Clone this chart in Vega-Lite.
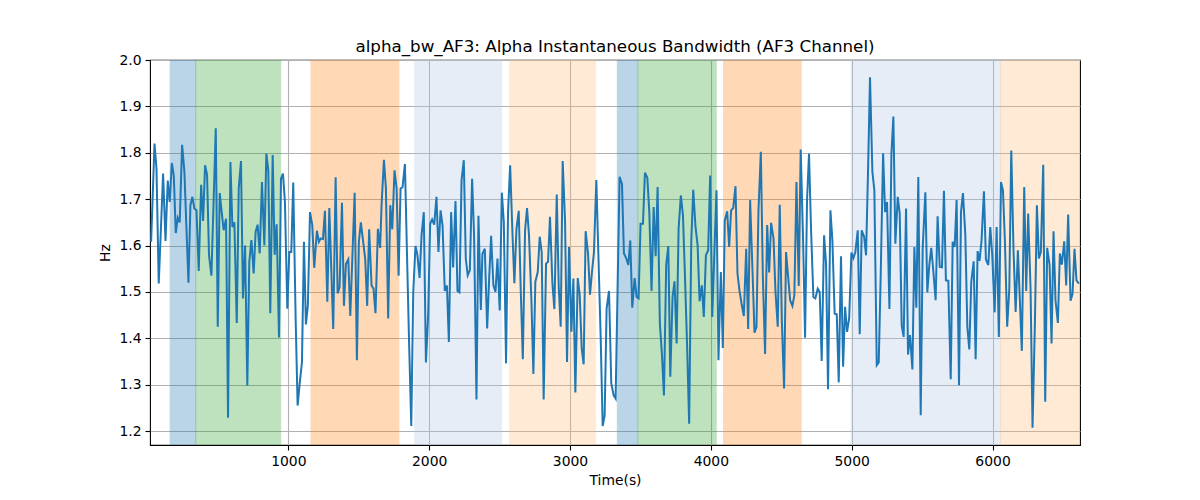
{
"$schema":"https://vega.github.io/schema/vega-lite/v6.json",
"width":930,"height":385,
"autosize":{"type":"none"},
"padding":{"left":150,"top":60,"right":120,"bottom":55},
"background":"white",
"title":{"text":"alpha_bw_AF3: Alpha Instantaneous Bandwidth (AF3 Channel)","font":"DejaVu Sans","fontSize":16.7,"fontWeight":"normal","color":"black","anchor":"middle","frame":"group","baseline":"alphabetic","offset":-16},
"config":{"view":{"stroke":"black","strokeWidth":1.1},
"axis":{"labelFont":"DejaVu Sans","titleFont":"DejaVu Sans","labelFontSize":13.9,"titleFontSize":13.9,"titleFontWeight":"normal","labelColor":"black","titleColor":"black","tickColor":"black","tickSize":5,"tickWidth":1.1,"domain":false,"grid":true,"gridColor":"#b0b0b0","gridWidth":1.1}},
"datasets":{
"spans":[
{"s":161,"e":343,"k":"A"},{"s":343,"e":946,"k":"B"},{"s":1161,"e":1785,"k":"C"},{"s":1898,"e":2513,"k":"D"},{"s":2572,"e":3182,"k":"E"},
{"s":3336,"e":3482,"k":"A"},{"s":3482,"e":4038,"k":"B"},{"s":4090,"e":4641,"k":"C"},{"s":4996,"e":6057,"k":"D"},{"s":6057,"e":6621,"k":"E"}],
"series":[
{"t":26,"v":1.608},{"t":50,"v":1.82},{"t":64,"v":1.766},{"t":80,"v":1.518},{"t":111,"v":1.755},{"t":128,"v":1.61},{"t":144,"v":1.74},{"t":158,"v":1.694},{"t":173,"v":1.778},{"t":187,"v":1.75},{"t":201,"v":1.627},{"t":215,"v":1.66},{"t":229,"v":1.65},{"t":246,"v":1.817},{"t":262,"v":1.76},{"t":291,"v":1.52},{"t":305,"v":1.687},{"t":319,"v":1.705},{"t":333,"v":1.68},{"t":348,"v":1.676},{"t":364,"v":1.545},{"t":381,"v":1.731},{"t":395,"v":1.653},{"t":409,"v":1.773},{"t":423,"v":1.753},{"t":437,"v":1.579},{"t":454,"v":1.535},{"t":485,"v":1.853},{"t":499,"v":1.425},{"t":513,"v":1.713},{"t":527,"v":1.672},{"t":541,"v":1.633},{"t":558,"v":1.658},{"t":572,"v":1.229},{"t":589,"v":1.78},{"t":603,"v":1.64},{"t":617,"v":1.65},{"t":634,"v":1.433},{"t":648,"v":1.723},{"t":664,"v":1.782},{"t":678,"v":1.486},{"t":693,"v":1.6},{"t":709,"v":1.298},{"t":723,"v":1.565},{"t":738,"v":1.612},{"t":754,"v":1.54},{"t":768,"v":1.63},{"t":782,"v":1.645},{"t":797,"v":1.583},{"t":813,"v":1.737},{"t":830,"v":1.6},{"t":844,"v":1.798},{"t":858,"v":1.762},{"t":872,"v":1.454},{"t":889,"v":1.795},{"t":903,"v":1.58},{"t":917,"v":1.646},{"t":934,"v":1.402},{"t":948,"v":1.744},{"t":962,"v":1.755},{"t":976,"v":1.694},{"t":993,"v":1.464},{"t":1007,"v":1.586},{"t":1021,"v":1.586},{"t":1035,"v":1.736},{"t":1052,"v":1.443},{"t":1066,"v":1.255},{"t":1080,"v":1.30},{"t":1097,"v":1.349},{"t":1111,"v":1.608},{"t":1125,"v":1.43},{"t":1139,"v":1.471},{"t":1154,"v":1.672},{"t":1170,"v":1.644},{"t":1184,"v":1.552},{"t":1203,"v":1.632},{"t":1217,"v":1.608},{"t":1229,"v":1.615},{"t":1246,"v":1.614},{"t":1260,"v":1.675},{"t":1277,"v":1.479},{"t":1291,"v":1.681},{"t":1319,"v":1.42},{"t":1336,"v":1.747},{"t":1350,"v":1.497},{"t":1364,"v":1.51},{"t":1381,"v":1.692},{"t":1395,"v":1.47},{"t":1409,"v":1.56},{"t":1426,"v":1.57},{"t":1440,"v":1.448},{"t":1471,"v":1.714},{"t":1487,"v":1.353},{"t":1501,"v":1.608},{"t":1515,"v":1.65},{"t":1530,"v":1.612},{"t":1546,"v":1.571},{"t":1560,"v":1.47},{"t":1574,"v":1.635},{"t":1591,"v":1.514},{"t":1605,"v":1.507},{"t":1619,"v":1.454},{"t":1636,"v":1.636},{"t":1652,"v":1.595},
{"t":1662,"v":1.687},{"t":1679,"v":1.785},{"t":1693,"v":1.723},{"t":1709,"v":1.443},{"t":1724,"v":1.687},{"t":1738,"v":1.635},{"t":1754,"v":1.762},{"t":1769,"v":1.723},{"t":1783,"v":1.535},{"t":1797,"v":1.723},{"t":1811,"v":1.726},{"t":1828,"v":1.776},{"t":1842,"v":1.59},{"t":1858,"v":1.385},{"t":1873,"v":1.211},{"t":1887,"v":1.5},{"t":1903,"v":1.599},{"t":1917,"v":1.579},{"t":1932,"v":1.53},{"t":1946,"v":1.622},{"t":1962,"v":1.672},{"t":1977,"v":1.348},{"t":1993,"v":1.45},{"t":2007,"v":1.647},{"t":2021,"v":1.656},{"t":2036,"v":1.645},{"t":2052,"v":1.705},{"t":2066,"v":1.586},{"t":2081,"v":1.676},{"t":2095,"v":1.644},{"t":2111,"v":1.502},{"t":2126,"v":1.514},{"t":2140,"v":1.392},{"t":2156,"v":1.672},{"t":2170,"v":1.553},{"t":2187,"v":1.696},{"t":2201,"v":1.502},{"t":2215,"v":1.499},{"t":2230,"v":1.741},{"t":2246,"v":1.784},{"t":2260,"v":1.572},{"t":2274,"v":1.536},{"t":2289,"v":1.547},{"t":2305,"v":1.744},{"t":2319,"v":1.622},{"t":2336,"v":1.268},{"t":2350,"v":1.664},{"t":2367,"v":1.461},{"t":2378,"v":1.582},{"t":2395,"v":1.593},{"t":2412,"v":1.421},{"t":2426,"v":1.529},{"t":2440,"v":1.621},{"t":2456,"v":1.514},{"t":2471,"v":1.5},{"t":2485,"v":1.572},{"t":2501,"v":1.46},{"t":2516,"v":1.714},{"t":2530,"v":1.651},{"t":2546,"v":1.346},{"t":2560,"v":1.672},{"t":2575,"v":1.773},{"t":2591,"v":1.631},{"t":2605,"v":1.519},{"t":2620,"v":1.636},{"t":2636,"v":1.675},{"t":2650,"v":1.507},{"t":2665,"v":1.355},{"t":2681,"v":1.633},{"t":2695,"v":1.681},{"t":2709,"v":1.622},{"t":2726,"v":1.482},{"t":2740,"v":1.323},{"t":2754,"v":1.522},{"t":2771,"v":1.543},{"t":2785,"v":1.619},{"t":2799,"v":1.586},{"t":2813,"v":1.268},{"t":2830,"v":1.561},{"t":2844,"v":1.565},{"t":2858,"v":1.662},{"t":2875,"v":1.519},{"t":2889,"v":1.463},{"t":2906,"v":1.71},{"t":2920,"v":1.511},{"t":2934,"v":1.425},{"t":2948,"v":1.782},{"t":2965,"v":1.651},{"t":2979,"v":1.349},{"t":2993,"v":1.597},{"t":3010,"v":1.414},{"t":3024,"v":1.529},{"t":3038,"v":1.283},{"t":3055,"v":1.53},{"t":3069,"v":1.493},{"t":3083,"v":1.378},{"t":3097,"v":1.344},{"t":3111,"v":1.631},{"t":3128,"v":1.583},{"t":3142,"v":1.494},{"t":3156,"v":1.543},{"t":3170,"v":1.585},{"t":3187,"v":1.741},{"t":3201,"v":1.586},{"t":3218,"v":1.4},{"t":3232,"v":1.211},{"t":3246,"v":1.234},{"t":3260,"v":1.464},{"t":3277,"v":1.502},
{"t":3293,"v":1.303},{"t":3310,"v":1.277},{"t":3324,"v":1.27},{"t":3352,"v":1.748},{"t":3369,"v":1.733},{"t":3383,"v":1.583},{"t":3400,"v":1.572},{"t":3414,"v":1.558},{"t":3428,"v":1.611},{"t":3442,"v":1.466},{"t":3459,"v":1.53},{"t":3473,"v":1.489},{"t":3487,"v":1.486},{"t":3501,"v":1.647},{"t":3518,"v":1.647},{"t":3532,"v":1.757},{"t":3549,"v":1.746},{"t":3563,"v":1.672},{"t":3579,"v":1.502},{"t":3594,"v":1.683},{"t":3608,"v":1.577},{"t":3622,"v":1.726},{"t":3638,"v":1.432},{"t":3653,"v":1.364},{"t":3667,"v":1.277},{"t":3683,"v":1.559},{"t":3698,"v":1.599},{"t":3712,"v":1.317},{"t":3728,"v":1.489},{"t":3742,"v":1.523},{"t":3757,"v":1.389},{"t":3771,"v":1.636},{"t":3787,"v":1.708},{"t":3802,"v":1.665},{"t":3816,"v":1.536},{"t":3832,"v":1.378},{"t":3846,"v":1.216},{"t":3861,"v":1.608},{"t":3875,"v":1.72},{"t":3891,"v":1.64},{"t":3906,"v":1.601},{"t":3920,"v":1.48},{"t":3936,"v":1.514},{"t":3950,"v":1.446},{"t":3965,"v":1.579},{"t":3981,"v":1.59},{"t":3995,"v":1.751},{"t":4010,"v":1.446},{"t":4026,"v":1.593},{"t":4040,"v":1.719},{"t":4054,"v":1.353},{"t":4071,"v":1.543},{"t":4085,"v":1.379},{"t":4099,"v":1.654},{"t":4116,"v":1.674},{"t":4130,"v":1.597},{"t":4144,"v":1.676},{"t":4159,"v":1.681},{"t":4175,"v":1.728},{"t":4189,"v":1.54},{"t":4203,"v":1.504},{"t":4218,"v":1.475},{"t":4234,"v":1.448},{"t":4251,"v":1.593},{"t":4265,"v":1.42},{"t":4279,"v":1.698},{"t":4296,"v":1.543},{"t":4310,"v":1.412},{"t":4324,"v":1.425},{"t":4338,"v":1.674},{"t":4355,"v":1.802},{"t":4369,"v":1.536},{"t":4385,"v":1.366},{"t":4400,"v":1.644},{"t":4414,"v":1.542},{"t":4428,"v":1.649},{"t":4445,"v":1.615},{"t":4459,"v":1.5},{"t":4475,"v":1.425},{"t":4489,"v":1.688},{"t":4504,"v":1.439},{"t":4520,"v":1.292},{"t":4534,"v":1.586},{"t":4549,"v":1.532},{"t":4563,"v":1.482},{"t":4579,"v":1.47},{"t":4593,"v":1.493},{"t":4608,"v":1.737},{"t":4624,"v":1.513},{"t":4638,"v":1.807},{"t":4655,"v":1.611},{"t":4669,"v":1.401},{"t":4683,"v":1.698},{"t":4697,"v":1.798},{"t":4712,"v":1.629},{"t":4728,"v":1.489},{"t":4742,"v":1.486},{"t":4759,"v":1.507},{"t":4773,"v":1.5},{"t":4787,"v":1.351},{"t":4804,"v":1.622},{"t":4818,"v":1.561},{"t":4832,"v":1.29},{"t":4849,"v":1.676},{"t":4863,"v":1.611},{"t":4879,"v":1.453},{"t":4894,"v":1.452},{"t":4908,"v":1.305},{"t":4924,"v":1.577},{"t":4939,"v":1.339},
{"t":4953,"v":1.468},{"t":4967,"v":1.414},{"t":4982,"v":1.443},{"t":4998,"v":1.585},{"t":5012,"v":1.573},{"t":5026,"v":1.586},{"t":5043,"v":1.633},{"t":5057,"v":1.409},{"t":5071,"v":1.633},{"t":5088,"v":1.619},{"t":5102,"v":1.579},{"t":5116,"v":1.759},{"t":5130,"v":1.963},{"t":5147,"v":1.759},{"t":5161,"v":1.719},{"t":5178,"v":1.342},{"t":5192,"v":1.348},{"t":5206,"v":1.536},{"t":5223,"v":1.799},{"t":5237,"v":1.672},{"t":5251,"v":1.694},{"t":5268,"v":1.463},{"t":5282,"v":1.798},{"t":5296,"v":1.878},{"t":5310,"v":1.604},{"t":5327,"v":1.705},{"t":5341,"v":1.669},{"t":5355,"v":1.428},{"t":5369,"v":1.403},{"t":5386,"v":1.68},{"t":5400,"v":1.365},{"t":5414,"v":1.407},{"t":5431,"v":1.333},{"t":5445,"v":1.597},{"t":5459,"v":1.466},{"t":5473,"v":1.748},{"t":5490,"v":1.234},{"t":5504,"v":1.593},{"t":5523,"v":1.715},{"t":5537,"v":1.499},{"t":5551,"v":1.558},{"t":5565,"v":1.595},{"t":5580,"v":1.543},{"t":5596,"v":1.482},{"t":5610,"v":1.663},{"t":5625,"v":1.554},{"t":5641,"v":1.553},{"t":5655,"v":1.718},{"t":5669,"v":1.525},{"t":5686,"v":1.524},{"t":5703,"v":1.312},{"t":5717,"v":1.608},{"t":5731,"v":1.597},{"t":5745,"v":1.698},{"t":5762,"v":1.299},{"t":5776,"v":1.672},{"t":5790,"v":1.713},{"t":5807,"v":1.622},{"t":5821,"v":1.425},{"t":5835,"v":1.376},{"t":5849,"v":1.522},{"t":5866,"v":1.566},{"t":5880,"v":1.355},{"t":5894,"v":1.588},{"t":5908,"v":1.567},{"t":5922,"v":1.611},{"t":5939,"v":1.717},{"t":5953,"v":1.57},{"t":5970,"v":1.558},{"t":5984,"v":1.64},{"t":5998,"v":1.579},{"t":6015,"v":1.456},{"t":6029,"v":1.64},{"t":6045,"v":1.403},{"t":6060,"v":1.737},{"t":6074,"v":1.719},{"t":6088,"v":1.608},{"t":6104,"v":1.425},{"t":6119,"v":1.507},{"t":6133,"v":1.805},{"t":6149,"v":1.59},{"t":6164,"v":1.457},{"t":6180,"v":1.59},{"t":6194,"v":1.482},{"t":6208,"v":1.373},{"t":6225,"v":1.726},{"t":6239,"v":1.502},{"t":6253,"v":1.669},{"t":6270,"v":1.507},{"t":6284,"v":1.207},{"t":6301,"v":1.435},{"t":6315,"v":1.687},{"t":6329,"v":1.572},{"t":6343,"v":1.586},{"t":6360,"v":1.774},{"t":6374,"v":1.263},{"t":6388,"v":1.595},{"t":6405,"v":1.558},{"t":6419,"v":1.389},{"t":6433,"v":1.631},{"t":6447,"v":1.482},{"t":6464,"v":1.433},{"t":6478,"v":1.583},{"t":6492,"v":1.559},{"t":6509,"v":1.609},{"t":6523,"v":1.514},{"t":6537,"v":1.667},{"t":6554,"v":1.481},{"t":6568,"v":1.496},{"t":6582,"v":1.593},{"t":6596,"v":1.525},{"t":6613,"v":1.518}]
},
"layer":[
{"data":{"name":"spans"},"mark":{"type":"rect","opacity":0.3,"strokeWidth":1,"clip":true},
"encoding":{
"x":{"field":"s","type":"quantitative","scale":{"domain":[18,6621],"nice":false,"zero":false},"axis":{"title":"Time(s)","values":[1000,2000,3000,4000,5000,6000],"format":"d","labelPadding":4,"titlePadding":6}},
"x2":{"field":"e"},
"color":{"field":"k","type":"nominal","scale":{"domain":["A","B","C","D","E"],"range":["#1f77b4","#2ca02c","#ff7f0e","#aec7e8","#ffbb78"]},"legend":null},
"stroke":{"field":"k","type":"nominal","scale":{"domain":["A","B","C","D","E"],"range":["#1f77b4","#2ca02c","#ff7f0e","#aec7e8","#ffbb78"]},"legend":null}}},
{"data":{"name":"series"},"mark":{"type":"line","color":"#1f77b4","strokeWidth":2,"clip":true},
"encoding":{
"x":{"field":"t","type":"quantitative"},
"y":{"field":"v","type":"quantitative","scale":{"domain":[1.17,2.0],"nice":false,"zero":false},"axis":{"title":"Hz","values":[1.2,1.3,1.4,1.5,1.6,1.7,1.8,1.9,2.0],"format":".1f","labelPadding":4,"titlePadding":6}}}}
]
}
